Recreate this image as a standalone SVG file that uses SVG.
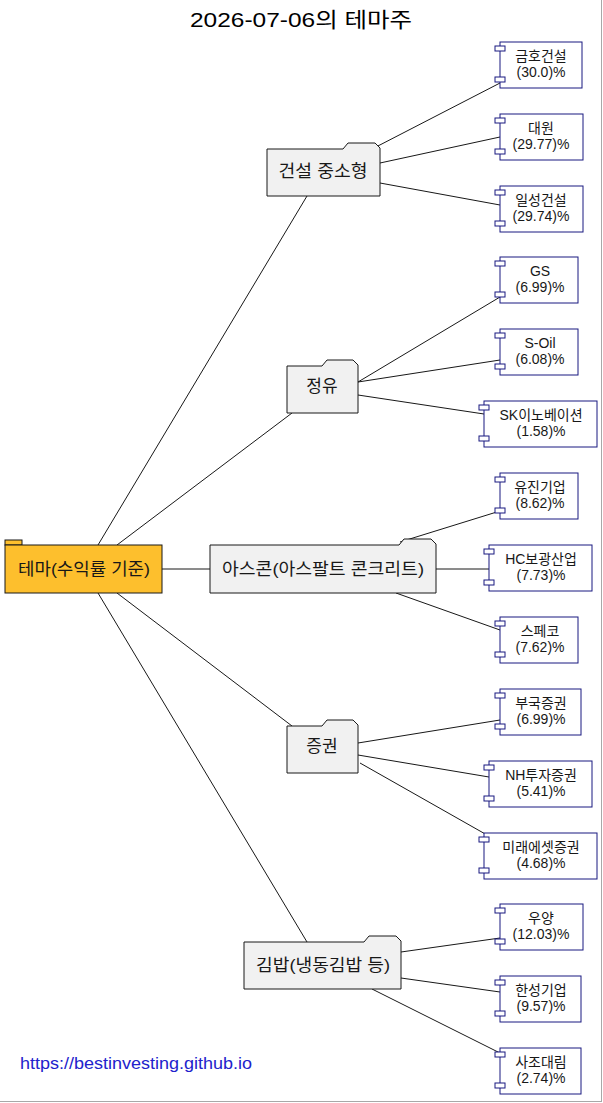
<svg xmlns="http://www.w3.org/2000/svg" width="603" height="1103" viewBox="0 0 603 1103">
<style>
.cat{fill:#F1F1F1;stroke:#181818;stroke-width:1}
.leaf{fill:#FFFFFF;stroke:#181880;stroke-width:1}
.port{fill:#FFFFFF;stroke:#181880;stroke-width:1}
.t16{font-family:"Liberation Sans","Noto Sans CJK KR",sans-serif;font-size:17px;fill:#181818;text-anchor:middle}
.t14{font-family:"Liberation Sans","Noto Sans CJK KR",sans-serif;font-size:14px;fill:#181818;text-anchor:middle}
.edge line{stroke:#181818;stroke-width:1}
</style>
<rect x="0" y="0" width="603" height="1103" fill="#FFFFFF"/>
<line x1="601.5" y1="0" x2="601.5" y2="1102" stroke="#A8A8A8" stroke-width="1"/>
<line x1="0" y1="1101.5" x2="602" y2="1101.5" stroke="#A8A8A8" stroke-width="1"/>
<text x="301" y="27" font-family="Liberation Sans,'Noto Sans CJK KR',sans-serif" font-size="21" fill="#000000" text-anchor="middle" textLength="222" lengthAdjust="spacingAndGlyphs">2026-07-06의 테마주</text>

<g id="connectors" class="edge">
<line x1="98" y1="545" x2="307" y2="196"/>
<line x1="117" y1="545" x2="292" y2="413"/>
<line x1="162" y1="569" x2="210" y2="569"/>
<line x1="117" y1="593" x2="292" y2="726"/>
<line x1="98" y1="593" x2="307" y2="942"/>
<line x1="374" y1="148" x2="500" y2="83"/>
<line x1="380" y1="163" x2="500" y2="137"/>
<line x1="380" y1="183" x2="500" y2="205"/>
<line x1="358" y1="382" x2="500" y2="297"/>
<line x1="358" y1="382" x2="500" y2="360"/>
<line x1="358" y1="395" x2="484" y2="414"/>
<line x1="400" y1="542" x2="500" y2="511"/>
<line x1="436" y1="569" x2="489" y2="569"/>
<line x1="396" y1="593" x2="500" y2="630"/>
<line x1="358" y1="743" x2="500" y2="720"/>
<line x1="358" y1="755" x2="489" y2="777"/>
<line x1="360" y1="763" x2="487" y2="835"/>
<line x1="401" y1="952" x2="500" y2="938"/>
<line x1="401" y1="978" x2="500" y2="992"/>
<line x1="372" y1="989" x2="500" y2="1053"/>
</g>

<g id="root">
<rect x="5" y="540" width="17" height="5" fill="#FDBF2D" stroke="#181818"/>
<rect x="5" y="545" width="157" height="48" fill="#FDBF2D" stroke="#181818"/>
<text class="t16" x="84" y="575" textLength="132" lengthAdjust="spacingAndGlyphs">테마(수익률 기준)</text>
</g>

<g id="cat1">
<path class="cat" d="M267,149 H343 L348,143 H375 L380,148 V196 H267 Z"/>
<text class="t16" x="323" y="177" textLength="89" lengthAdjust="spacingAndGlyphs">건설 중소형</text>
</g>
<g id="cat2">
<path class="cat" d="M287,366 H322 L327,360 H353 L358,365 V413 H287 Z"/>
<text class="t16" x="322" y="392">정유</text>
</g>
<g id="cat3">
<path class="cat" d="M210,545 H399 L404,539 H431 L436,544 V593 H210 Z"/>
<text class="t16" x="323" y="575" textLength="202" lengthAdjust="spacingAndGlyphs">아스콘(아스팔트 콘크리트)</text>
</g>
<g id="cat4">
<path class="cat" d="M287,726 H322 L327,720 H353 L358,725 V773 H287 Z"/>
<text class="t16" x="322" y="752">증권</text>
</g>
<g id="cat5">
<path class="cat" d="M244,942 H364 L369,936 H396 L401,941 V989 H244 Z"/>
<text class="t16" x="323" y="971" textLength="134" lengthAdjust="spacingAndGlyphs">김밥(냉동김밥 등)</text>
</g>

<g id="leaf1"><rect class="leaf" x="500" y="42" width="82" height="46"/><rect class="port" x="495" y="46" width="10" height="5"/><rect class="port" x="495" y="77" width="10" height="5"/><text class="t14" x="541" y="61">금호건설</text><text class="t14" x="541" y="77">(30.0)%</text></g>
<g id="leaf2"><rect class="leaf" x="500" y="114" width="83" height="46"/><rect class="port" x="495" y="118" width="10" height="5"/><rect class="port" x="495" y="149" width="10" height="5"/><text class="t14" x="541" y="133">대원</text><text class="t14" x="541" y="149">(29.77)%</text></g>
<g id="leaf3"><rect class="leaf" x="500" y="186" width="83" height="46"/><rect class="port" x="495" y="190" width="10" height="5"/><rect class="port" x="495" y="221" width="10" height="5"/><text class="t14" x="541" y="205">일성건설</text><text class="t14" x="541" y="221">(29.74)%</text></g>
<g id="leaf4"><rect class="leaf" x="500" y="257" width="78" height="46"/><rect class="port" x="495" y="261" width="10" height="5"/><rect class="port" x="495" y="292" width="10" height="5"/><text class="t14" x="540" y="276">GS</text><text class="t14" x="540" y="292">(6.99)%</text></g>
<g id="leaf5"><rect class="leaf" x="500" y="329" width="78" height="46"/><rect class="port" x="495" y="333" width="10" height="5"/><rect class="port" x="495" y="364" width="10" height="5"/><text class="t14" x="540" y="348">S-Oil</text><text class="t14" x="540" y="364">(6.08)%</text></g>
<g id="leaf6"><rect class="leaf" x="484" y="401" width="113" height="46"/><rect class="port" x="479" y="405" width="10" height="5"/><rect class="port" x="479" y="436" width="10" height="5"/><text class="t14" x="541" y="420">SK이노베이션</text><text class="t14" x="541" y="436">(1.58)%</text></g>
<g id="leaf7"><rect class="leaf" x="500" y="473" width="78" height="46"/><rect class="port" x="495" y="477" width="10" height="5"/><rect class="port" x="495" y="508" width="10" height="5"/><text class="t14" x="540" y="492">유진기업</text><text class="t14" x="540" y="508">(8.62)%</text></g>
<g id="leaf8"><rect class="leaf" x="489" y="545" width="103" height="46"/><rect class="port" x="484" y="549" width="10" height="5"/><rect class="port" x="484" y="580" width="10" height="5"/><text class="t14" x="541" y="564">HC보광산업</text><text class="t14" x="541" y="580">(7.73)%</text></g>
<g id="leaf9"><rect class="leaf" x="500" y="617" width="78" height="46"/><rect class="port" x="495" y="621" width="10" height="5"/><rect class="port" x="495" y="652" width="10" height="5"/><text class="t14" x="540" y="636">스페코</text><text class="t14" x="540" y="652">(7.62)%</text></g>
<g id="leaf10"><rect class="leaf" x="500" y="689" width="81" height="46"/><rect class="port" x="495" y="693" width="10" height="5"/><rect class="port" x="495" y="724" width="10" height="5"/><text class="t14" x="541" y="708">부국증권</text><text class="t14" x="541" y="724">(6.99)%</text></g>
<g id="leaf11"><rect class="leaf" x="489" y="761" width="103" height="46"/><rect class="port" x="484" y="765" width="10" height="5"/><rect class="port" x="484" y="796" width="10" height="5"/><text class="t14" x="541" y="780">NH투자증권</text><text class="t14" x="541" y="796">(5.41)%</text></g>
<g id="leaf12"><rect class="leaf" x="484" y="833" width="113" height="46"/><rect class="port" x="479" y="837" width="10" height="5"/><rect class="port" x="479" y="868" width="10" height="5"/><text class="t14" x="541" y="852">미래에셋증권</text><text class="t14" x="541" y="868">(4.68)%</text></g>
<g id="leaf13"><rect class="leaf" x="500" y="904" width="83" height="46"/><rect class="port" x="495" y="908" width="10" height="5"/><rect class="port" x="495" y="939" width="10" height="5"/><text class="t14" x="541" y="923">우양</text><text class="t14" x="541" y="939">(12.03)%</text></g>
<g id="leaf14"><rect class="leaf" x="500" y="976" width="81" height="46"/><rect class="port" x="495" y="980" width="10" height="5"/><rect class="port" x="495" y="1011" width="10" height="5"/><text class="t14" x="541" y="995">한성기업</text><text class="t14" x="541" y="1011">(9.57)%</text></g>
<g id="leaf15"><rect class="leaf" x="500" y="1048" width="81" height="46"/><rect class="port" x="495" y="1052" width="10" height="5"/><rect class="port" x="495" y="1083" width="10" height="5"/><text class="t14" x="541" y="1067">사조대림</text><text class="t14" x="541" y="1083">(2.74)%</text></g>

<text x="20" y="1069" font-family="Liberation Sans,sans-serif" font-size="17" fill="#2222CC" textLength="232" lengthAdjust="spacingAndGlyphs">https://bestinvesting.github.io</text>
</svg>
